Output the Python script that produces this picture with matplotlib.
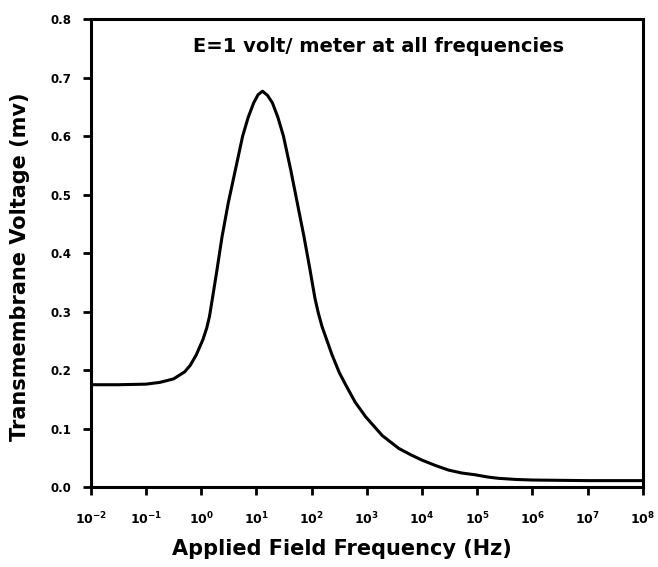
import numpy as np
import matplotlib
matplotlib.use('Agg')
import matplotlib.pyplot as plt

# curve values (log10 of frequency, voltage in mv)
freq_exp = [-2.0, -1.5, -1.0, -0.75, -0.5, -0.3, -0.2, -0.09, 0.03, 0.10,
            0.15, 0.195, 0.28, 0.377, 0.49, 0.62, 0.75, 0.85, 0.95, 1.03,
            1.11, 1.2, 1.29, 1.39, 1.49, 1.62, 1.74, 1.86, 1.97, 2.06,
            2.12, 2.19, 2.37, 2.5, 2.61, 2.79, 2.98, 3.28, 3.58, 3.8,
            4.0, 4.24, 4.48, 4.72, 4.96, 5.2, 5.38, 5.7, 6.0, 7.0, 8.0]
voltage = [0.175, 0.175, 0.176, 0.179, 0.185, 0.197, 0.208, 0.226, 0.252, 0.272,
           0.292, 0.318, 0.368, 0.428, 0.486, 0.543, 0.600, 0.632, 0.657, 0.671,
           0.677, 0.670, 0.657, 0.632, 0.600, 0.543, 0.486, 0.429, 0.372, 0.323,
           0.298, 0.274, 0.226, 0.196, 0.176, 0.145, 0.120, 0.088, 0.066, 0.055,
           0.046, 0.037, 0.029, 0.024, 0.021, 0.017, 0.015, 0.013, 0.012, 0.011, 0.011]

x_ticks = [1e-2, 1e-1, 1e0, 1e1, 1e2, 1e3, 1e4, 1e5, 1e6, 1e7, 1e8]
x_labels = [r'$\mathbf{10^{%d}}$' % e for e in range(-2, 9)]
y_ticks = [0.0, 0.1, 0.2, 0.3, 0.4, 0.5, 0.6, 0.7, 0.8]

plt.rcParams['font.family'] = ['DejaVu Sans']
plt.rcParams['mathtext.fontset'] = 'dejavusans'

fig = plt.figure(figsize=(6.58, 5.67), dpi=100)
ax = fig.add_axes([0.138, 0.141, 0.839, 0.825])

freq = 10.0 ** np.array(freq_exp)
ax.plot(freq, voltage, color='black', linewidth=2.2, solid_joinstyle='round')

ax.set_xscale('log')
ax.set_xlim(1e-2, 1e8)
ax.set_ylim(0, 0.8)
ax.set_xticks(x_ticks)
ax.set_xticklabels(x_labels)
ax.minorticks_off()
ax.set_yticks(y_ticks)
ax.set_yticklabels(['%.1f' % v for v in y_ticks])

for s in ax.spines.values():
    s.set_linewidth(2.2)
ax.tick_params(direction='out', width=2, length=6)
ax.tick_params(axis='y', labelsize=8.5, pad=8)
ax.tick_params(axis='x', labelsize=9, pad=11)
for lbl in ax.get_yticklabels():
    lbl.set_fontweight('bold')

ax.set_ylabel('Transmembrane Voltage (mv)', fontsize=15, fontweight='bold')
ax.yaxis.set_label_coords(-0.111, 0.47)
ax.set_xlabel('Applied Field Frequency (Hz)', fontsize=15, fontweight='bold')
ax.xaxis.set_label_coords(0.454, -0.11)

ax.text(0.522, 0.962, 'E=1 volt/ meter at all frequencies', transform=ax.transAxes,
        fontsize=14, fontweight='bold', ha='center', va='top')

fig.savefig('out.png', dpi=100)
